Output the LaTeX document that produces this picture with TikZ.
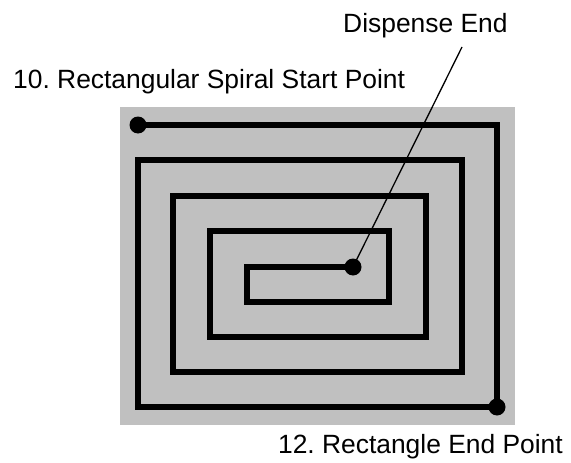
\documentclass[tikz,border=0pt]{standalone}
\usepackage{fontspec}
\setmainfont{Liberation Sans}
\frenchspacing
\definecolor{panelgray}{HTML}{C0C0C0}
\begin{document}
\begin{tikzpicture}[x=1pt,y=-1pt,
  spiral/.style={line width=5.5pt,line join=miter,line cap=butt},
  dot/.style={circle,fill=black,inner sep=0pt,minimum size=17pt},
  lbl/.style={inner sep=0pt,font=\fontsize{26.4}{30}\selectfont},
  leader/.style={line width=1.3pt}]
\useasboundingbox (0,0) rectangle (571,463);
\fill[panelgray] (120,107) rectangle (515,425);
% spiral corners
\coordinate (p0) at (138,125);
\coordinate (p1) at (497,125);
\coordinate (p2) at (497,407);
\coordinate (p3) at (138,407);
\coordinate (p4) at (138,160);
\coordinate (p5) at (462,160);
\coordinate (p6) at (462,372);
\coordinate (p7) at (173,372);
\coordinate (p8) at (173,196);
\coordinate (p9) at (426,196);
\coordinate (p10) at (426,337);
\coordinate (p11) at (210,337);
\coordinate (p12) at (210,231);
\coordinate (p13) at (389,231);
\coordinate (p14) at (389,302);
\coordinate (p15) at (247,302);
\coordinate (p16) at (247,267);
\coordinate (p17) at (353,267);
\draw[spiral] (p0) -- (p1) -- (p2) -- (p3) -- (p4) -- (p5) -- (p6) -- (p7) -- (p8) -- (p9) -- (p10) -- (p11) -- (p12) -- (p13) -- (p14) -- (p15) -- (p16) -- (p17);
\node[dot] (start) at (p0) {};
\node[dot] (rend) at (p2) {};
\node[dot] (dend) at (p17) {};
\coordinate (ltop) at (462,47);
\draw[leader] (dend.center) -- (ltop);
\node[lbl,anchor=base west] (tdisp) at (343,32) {Dispense End};
\node[lbl,anchor=base west] (tstart) at (13,88) {10. Rectangular Spiral Start Point};
\node[lbl,anchor=base east] (tend) at (563,453) {12. Rectangle End Point};
\end{tikzpicture}
\end{document}
